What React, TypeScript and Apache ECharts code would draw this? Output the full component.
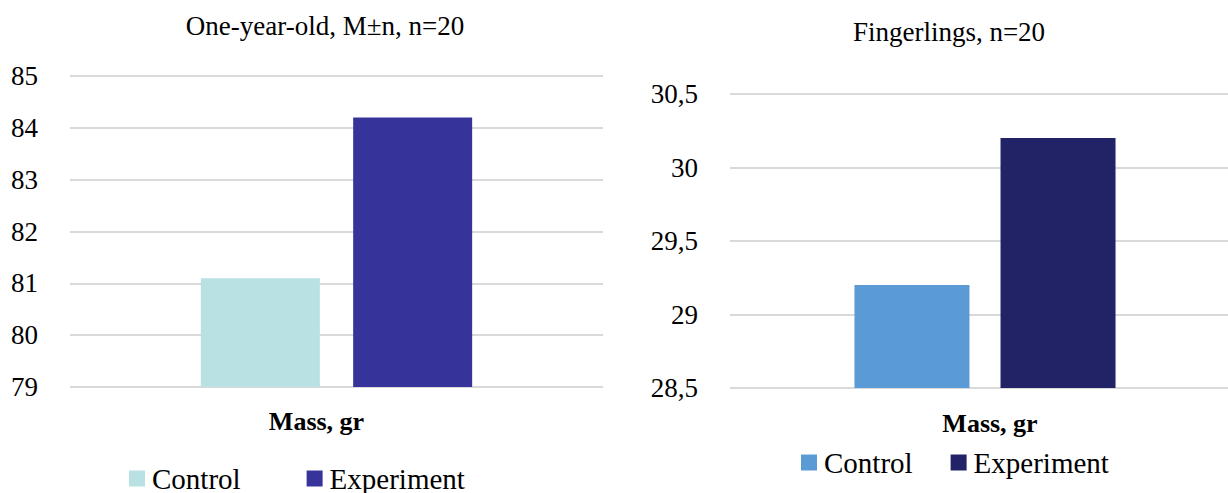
import React, { useEffect, useRef } from "react";
import * as echarts from "echarts";

const categories = ["Mass, gr"];
const seriesNames = ["Control", "Experiment"];

const leftTitle = "One-year-old, M±n, n=20";
const leftControl = [81.1];
const leftExperiment = [84.2];
const leftColors = ["#b9e0e3", "#36349a"];

const rightTitle = "Fingerlings, n=20";
const rightControl = [29.2];
const rightExperiment = [30.2];
const rightColors = ["#5b9bd5", "#222266"];

const FONT = "Liberation Serif";

function buildOption(cfg: any) {
  return {
    animation: false,
    textStyle: { fontFamily: FONT },
    title: {
      text: cfg.title,
      left: cfg.titleX,
      top: cfg.titleTop,
      textAlign: "center",
      textStyle: { fontFamily: FONT, fontSize: 27, fontWeight: "normal", color: "#000" },
    },
    legend: {
      data: seriesNames,
      left: cfg.legendX,
      top: cfg.legendTop,
      padding: 0,
      itemWidth: 16,
      itemHeight: 16,
      itemGap: cfg.legendGap,
      icon: "rect",
      textStyle: { fontFamily: FONT, fontSize: 29, color: "#000", padding: [0, 0, 0, 2] },
    },
    grid: cfg.grid,
    xAxis: {
      type: "category",
      data: categories,
      axisLine: { show: false },
      axisTick: { show: false },
      axisLabel: {
        fontFamily: FONT,
        fontSize: 26,
        fontWeight: "bold",
        color: "#000",
        margin: cfg.catMargin,
        padding: cfg.catPad,
      },
    },
    yAxis: {
      type: "value",
      min: cfg.min,
      max: cfg.max,
      interval: cfg.interval,
      axisLine: { show: false },
      axisTick: { show: false },
      splitLine: { lineStyle: { color: "#d9d9d9", width: 2 } },
      axisLabel: {
        fontFamily: FONT,
        fontSize: 27,
        color: "#000",
        margin: 32,
        formatter: (v: number) => String(v).replace(".", ","),
      },
    },
    series: [
      {
        name: seriesNames[0],
        type: "bar",
        data: cfg.control,
        barWidth: cfg.barWidth,
        barGap: cfg.barGap,
        itemStyle: { color: cfg.colors[0] },
      },
      {
        name: seriesNames[1],
        type: "bar",
        data: cfg.experiment,
        barWidth: cfg.barWidth,
        barGap: cfg.barGap,
        itemStyle: { color: cfg.colors[1] },
      },
    ],
  };
}

function Chart({ style, option }: { style: React.CSSProperties; option: any }) {
  const ref = useRef<HTMLDivElement>(null);
  useEffect(() => {
    if (!ref.current) return;
    const chart = echarts.init(ref.current, undefined, { renderer: "svg" });
    chart.setOption(option);
    return () => chart.dispose();
  }, []);
  return <div ref={ref} style={style} />;
}

export default function App() {
  const leftOpt = buildOption({
    title: leftTitle,
    titleX: 320,
    titleTop: 7,
    legendX: 129,
    legendTop: 464,
    legendGap: 66,
    grid: { left: 70, right: 11, top: 76, bottom: 106 },
    min: 79,
    max: 85,
    interval: 1,
    control: leftControl,
    experiment: leftExperiment,
    colors: leftColors,
    barWidth: 119,
    barGap: "28%",
    catMargin: 21,
    catPad: [0, 40, 0, 0],
  });
  const rightOpt = buildOption({
    title: rightTitle,
    titleX: 330,
    titleTop: 13,
    legendX: 187,
    legendTop: 448,
    legendGap: 38,
    grid: { left: 116, right: 0, top: 94, bottom: 105 },
    min: 28.5,
    max: 30.5,
    interval: 0.5,
    control: rightControl,
    experiment: rightExperiment,
    colors: rightColors,
    barWidth: 115,
    barGap: "27%",
    catMargin: 22,
    catPad: [0, 0, 0, 10],
  });
  return (
    <div
      style={{
        position: "absolute",
        left: 0,
        top: 0,
        width: 1228,
        height: 493,
        overflow: "hidden",
        background: "#fff",
      }}
    >
      <Chart style={{ position: "absolute", left: 0, top: 0, width: 614, height: 493 }} option={leftOpt} />
      <Chart style={{ position: "absolute", left: 614, top: 0, width: 626, height: 493 }} option={rightOpt} />
    </div>
  );
}
